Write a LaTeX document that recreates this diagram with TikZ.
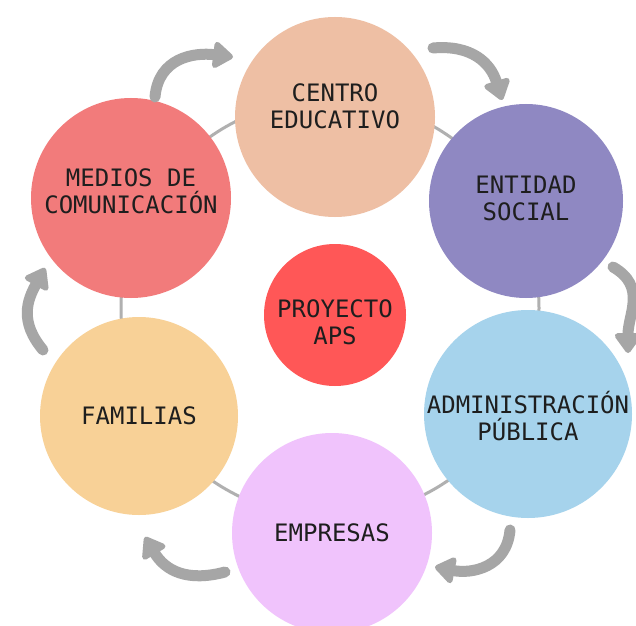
\documentclass[tikz,border=0pt]{standalone}
\usepackage{fontspec}
\newfontfamily\labfont{DejaVu Sans Mono}
\usetikzlibrary{arrows.meta}

\definecolor{centroC}{HTML}{EEBFA4}
\definecolor{entidadC}{HTML}{8F88C2}
\definecolor{adminC}{HTML}{A6D3EC}
\definecolor{empresasC}{HTML}{F0C3FC}
\definecolor{familiasC}{HTML}{F8D197}
\definecolor{mediosC}{HTML}{F27B7B}
\definecolor{proyectoC}{HTML}{FF5757}
\definecolor{arrC}{HTML}{A6A6A6}
\definecolor{ringC}{HTML}{B0B0B0}
\definecolor{textC}{HTML}{1E1E1E}

\begin{document}
\begin{tikzpicture}[x=1pt,y=1pt]
    \tikzstyle{disc}=[circle,draw=none,inner sep=0pt]
    \tikzstyle{txt}=[align=center,text=textC,font=\labfont\fontsize{24}{27}\selectfont]
    \tikzstyle{garr}=[draw=arrC,line width=11pt,line cap=round,-{Triangle[width=30pt,length=22pt,round]}]

    \useasboundingbox (0,0) rectangle (636,625);
    \fill[white] (0,0) rectangle (636,625);

    % ring behind the circles
    \draw[draw=ringC,line width=3pt] (330,317) circle (209pt);

    \node[disc,minimum size=200pt,fill=centroC] (centro) at (335,508) {};
    \node[disc,minimum size=194pt,fill=entidadC] (entidad) at (526,424) {};
    \node[disc,minimum size=208pt,fill=adminC] (admin) at (528,211) {};
    \node[disc,minimum size=200pt,fill=empresasC] (empresas) at (332,92) {};
    \node[disc,minimum size=198pt,fill=familiasC] (familias) at (139,209) {};
    \node[disc,minimum size=200pt,fill=mediosC] (medios) at (131,427) {};
    \node[disc,minimum size=142pt,fill=proyectoC] (proyecto) at (335,310) {};

    \node[txt] (tcentro) at (335,519) {CENTRO\\EDUCATIVO};
    \node[txt] (tentidad) at (526,426.5) {ENTIDAD\\SOCIAL};
    \node[txt] (tadmin) at (528,209) {ADMINISTRACIÓN\\PÚBLICA};
    \node[txt] (tempresas) at (332,92) {EMPRESAS};
    \node[txt] (tfamilias) at (139,209) {FAMILIAS};
    \node[txt] (tmedios) at (131,433.5) {MEDIOS DE\\COMUNICACIÓN};
    \node[txt] (tproyecto) at (335,303) {PROYECTO\\APS};

    % curved arrows round the ring
    \coordinate (a1s) at (155,528); \coordinate (a1e) at (233,568);
    \coordinate (a2s) at (433,577); \coordinate (a2e) at (502,525);
    \coordinate (a3s) at (613,358); \coordinate (a3e) at (628,272);
    \coordinate (a4s) at (510,95);  \coordinate (a4e) at (435,58);
    \coordinate (a5s) at (225,53);  \coordinate (a5e) at (145,88);
    \coordinate (a6s) at (43,275);  \coordinate (a6e) at (45,357);

    \foreach \s/\e/\o/\i in {a1s/a1e/85/173, a2s/a2e/5/107, a3s/a3e/-30/90,
                              a4s/a4e/-95/349, a5s/a5e/195/301, a6s/a6e/130/241} {
        \draw[garr] (\s) to[out=\o,in=\i,looseness=1.15] (\e);
    }
\end{tikzpicture}
\end{document}
